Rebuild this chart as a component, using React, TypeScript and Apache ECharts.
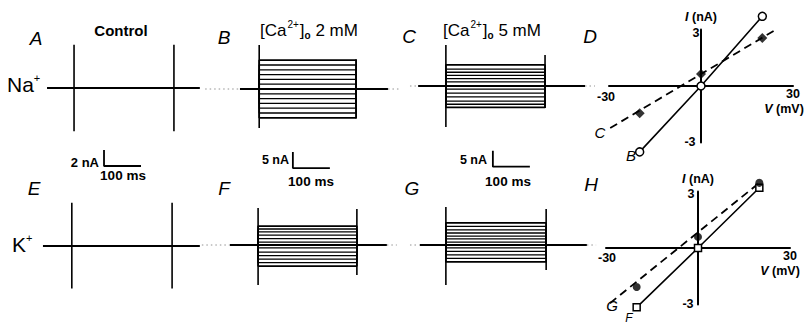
import React, { useEffect, useRef } from "react";
import * as echarts from "echarts";

// ---------- DATA ----------
// Current levels (nA) of the step traces
const levelsB = [9, 7.5, 6, 4.5, 3, 1.5, 0, -1.5, -3, -4.5, -6, -7.5, -9];
const levelsC = [6.6, 5.3, 4.3, 3.3, 2.3, 1.3, 0, -1, -2.2, -3.4, -4.7, -5.7, -6.7];
const levelsF = [5.9, 5, 4.1, 3.1, 2, 0.9, 0, -0.9, -2.2, -3.3, -4.4, -5.5, -6.6];
const levelsG = [6.9, 5.8, 4.7, 3.75, 2.8, 1.9, 0.9, 0, -0.9, -2, -3.1, -4.2, -5.3];

// Step onset / offset (ms)
const stepA = [92, 362];
const stepB = [160, 422];
const stepC = [124, 392];
const stepE = [86, 357];
const stepF = [157, 424];
const stepG = [124, 395];

// Holding baseline extent (ms) solid, and dotted extensions
const baseA = [19, 432];
const baseB = [108, 508];
const baseC = [49, 500];
const baseE = [8, 432];
const baseF = [81, 505];
const baseG = [54, 505];
const dotB = [14, 540];
const dotC = [27, 527];
const dotF = [5, 532];
const dotG = [27, 530];

// Capacitive transients (nA): onset high, onset low, offset high, offset low
const spikeA = [5.4, -5.4, 5.4, -5.4];
const spikeB = [13.75, -12.2, 9.3, -9.2];
const spikeC = [12.8, -12.8, 9.7, -6.9];
const spikeE = [5.4, -5.3, 5.4, -5.3];
const spikeF = [11.6, -12.5, 11.25, -9.4];
const spikeG = [11.9, -12.5, 11.25, -7.8];

// Scale bars: [start ms, top nA, amplitude nA, duration ms]
const scaleA = [173, -7.75, 2, 100];
const scaleB = [251, -19.7, 5, 100];
const scaleC = [251, -20.2, 5, 100];

// I-V relations
const ivV = [-20, 0, 20];
const ivB = [-3.5, 0, 3.7];
const ivC = [-1.45, 0.64, 2.55];
const ivF = [-3.15, 0, 3.2];
const ivG = [-2.07, 0.59, 3.46];
const fitCV = [-29.6, 24.8];
const fitCI = [-2.23, 3.03];
const fitGV = [-28.7, 20];
const fitGI = [-2.93, 3.46];

// I-V tick labels
const ivXTicks = ["-30", "30"];
const ivYTicks = ["3", "-3"];

// ---------- LAYOUT ----------
const FONT = "'Liberation Sans', Arial, Helvetica, sans-serif";

const traceGrids = [
  { left: 40, top: 40, width: 162.8, height: 136, xMax: 440, yMin: -11, yMax: 6 }, // A
  { left: 200, top: 41, width: 199.8, height: 134.4, xMax: 540, yMin: -27, yMax: 15 }, // B
  { left: 400, top: 41.2, width: 199.8, height: 134.4, xMax: 540, yMin: -28, yMax: 14 }, // C
  { left: 40, top: 198, width: 162.8, height: 96, xMax: 440, yMin: -6, yMax: 6 }, // E
  { left: 200, top: 197, width: 199.8, height: 96, xMax: 540, yMin: -15, yMax: 15 }, // F
  { left: 400, top: 197, width: 199.8, height: 96, xMax: 540, yMin: -15, yMax: 15 }, // G
];
const ivGrids = [
  { left: 609, top: 29.5, width: 184, height: 113 }, // D
  { left: 606, top: 191.5, width: 184, height: 113 }, // H
];

const seg = (g: number, data: any[], width = 1.3, type: any = "solid", color = "#000", z = 3) => ({
  type: "line",
  xAxisIndex: g,
  yAxisIndex: g,
  data,
  symbol: "none",
  showSymbol: false,
  silent: true,
  clip: false,
  z,
  lineStyle: { color, width, type, cap: "butt" },
});

function tracePanel(g: number, levels: number[], step: number[], base: number[], spike: number[], dot?: number[], thick = 1.3) {
  const s: any[] = [];
  if (dot) {
    s.push(seg(g, [[dot[0], 0], [base[0], 0]], 0.8, [1.5, 3], "#777", 2));
    s.push(seg(g, [[base[1], 0], [dot[1], 0]], 0.8, [1.5, 3], "#777", 2));
  }
  s.push(seg(g, [[base[0], 0], [base[1], 0]], 2));
  levels.forEach((lv, i) => {
    const w = i === 0 || i === levels.length - 1 ? 1.7 : thick;
    s.push(seg(g, [[step[0], 0], [step[0], lv], [step[1], lv], [step[1], 0]], w));
  });
  s.push(seg(g, [[step[0], spike[0]], [step[0], spike[1]]], 1.6));
  s.push(seg(g, [[step[1], spike[2]], [step[1], spike[3]]], 1.6));
  return s;
}

function scaleBar(g: number, sc: number[]) {
  return seg(g, [[sc[0], sc[1]], [sc[0], sc[1] - sc[2]], [sc[0] + sc[3], sc[1] - sc[2]]], 1.8);
}

function txt(x: number, y: number, text: string, size: number, o: any = {}) {
  const align = o.align || "center";
  return {
    type: "text",
    x,
    y,
    silent: true,
    z: 10,
    style: {
      text,
      fill: "#000",
      fontSize: size,
      fontFamily: FONT,
      fontStyle: o.italic ? "italic" : "normal",
      fontWeight: o.bold ? "bold" : "normal",
      textAlign: align,
      align,
      textVerticalAlign: "middle",
      verticalAlign: "middle",
      rich: o.rich,
    },
  };
}

const caRich = (size: number) => ({
  sup: { fontSize: 10, fontFamily: FONT, verticalAlign: "top", lineHeight: 11, padding: [0, 1, 0, 1] },
  sub: { fontSize: 10, fontFamily: FONT, fontWeight: "bold", verticalAlign: "bottom", lineHeight: 11 },
  b: { fontSize: size, fontFamily: FONT, lineHeight: 21 },
});
const ionRich = {
  b: { fontSize: 21, fontFamily: FONT, lineHeight: 24 },
  sup: { fontSize: 11, fontFamily: FONT, verticalAlign: "top", lineHeight: 13 },
};
const vRich = { i: { fontStyle: "italic", fontWeight: "bold", fontSize: 12.5, fontFamily: FONT } };

function buildOption() {
  const grid: any[] = [];
  const xAxis: any[] = [];
  const yAxis: any[] = [];
  traceGrids.forEach((t) => {
    grid.push({ left: t.left, top: t.top, width: t.width, height: t.height });
    xAxis.push({ gridIndex: grid.length - 1, type: "value", min: 0, max: t.xMax, show: false });
    yAxis.push({ gridIndex: grid.length - 1, type: "value", min: t.yMin, max: t.yMax, show: false });
  });
  ivGrids.forEach((t) => {
    grid.push({ left: t.left, top: t.top, width: t.width, height: t.height });
    const gi = grid.length - 1;
    xAxis.push({
      gridIndex: gi,
      type: "value",
      min: -30,
      max: 30,
      interval: 30,
      axisLine: { onZero: true, lineStyle: { color: "#000", width: 2 } },
      axisTick: { show: false },
      splitLine: { show: false },
      axisLabel: { show: false },
    });
    yAxis.push({
      gridIndex: gi,
      type: "value",
      min: -3,
      max: 3,
      interval: 3,
      name: "{i|I} (nA)",
      nameLocation: "end",
      nameGap: 6,
      nameTextStyle: {
        color: "#000",
        fontSize: 12.5,
        fontWeight: "bold",
        fontFamily: FONT,
        rich: vRich,
      },
      axisLine: { onZero: true, lineStyle: { color: "#000", width: 2 } },
      axisTick: { show: false },
      splitLine: { show: false },
      axisLabel: { show: false },
    });
  });

  const series: any[] = [];
  series.push(...tracePanel(0, [0], stepA, baseA, spikeA, undefined, 2));
  series.push(...tracePanel(1, levelsB, stepB, baseB, spikeB, dotB));
  series.push(...tracePanel(2, levelsC, stepC, baseC, spikeC, dotC));
  series.push(...tracePanel(3, [0], stepE, baseE, spikeE, undefined, 3));
  series.push(...tracePanel(4, levelsF, stepF, baseF, spikeF, dotF));
  series.push(...tracePanel(5, levelsG, stepG, baseG, spikeG, dotG));
  series.push(scaleBar(0, scaleA), scaleBar(1, scaleB), scaleBar(2, scaleC));

  const pts = (vals: number[]) => ivV.map((v, i) => [v, vals[i]]);
  // D
  series.push({
    type: "line", xAxisIndex: 6, yAxisIndex: 6, data: pts(ivB), silent: true, clip: false, z: 5,
    symbol: "circle", symbolSize: 8, showSymbol: true,
    itemStyle: { color: "#fff", borderColor: "#000", borderWidth: 1.5 },
    lineStyle: { color: "#000", width: 1.6 },
  });
  series.push(seg(6, [[fitCV[0], fitCI[0]], [fitCV[1], fitCI[1]]], 1.8, [8, 5], "#000", 4));
  series.push({
    type: "scatter", xAxisIndex: 6, yAxisIndex: 6, data: pts(ivC), silent: true, clip: false, z: 6,
    symbol: "diamond", symbolSize: 10, itemStyle: { color: "#000" },
  });
  // H
  series.push({
    type: "line", xAxisIndex: 7, yAxisIndex: 7, data: pts(ivF), silent: true, clip: false, z: 5,
    symbol: "rect", symbolSize: 7, showSymbol: true,
    itemStyle: { color: "#fff", borderColor: "#000", borderWidth: 1.5 },
    lineStyle: { color: "#000", width: 1.6 },
  });
  series.push(seg(7, [[fitGV[0], fitGI[0]], [fitGV[1], fitGI[1]]], 1.8, [8, 5], "#000", 4));
  series.push({
    type: "scatter", xAxisIndex: 7, yAxisIndex: 7, data: pts(ivG), silent: true, clip: false, z: 6,
    symbol: "circle", symbolSize: 8, itemStyle: { color: "#000" },
  });

  const graphic: any[] = [
    txt(36, 38, "A", 19, { italic: true }),
    txt(224, 37, "B", 19, { italic: true }),
    txt(409, 36, "C", 19, { italic: true }),
    txt(590, 36, "D", 19, { italic: true }),
    txt(34, 188, "E", 19, { italic: true }),
    txt(224, 188, "F", 19, { italic: true }),
    txt(412, 188, "G", 19, { italic: true }),
    txt(591, 184, "H", 19, { italic: true }),
    txt(121, 30, "Control", 15, { bold: true }),
    txt(260, 30, "{b|[Ca}{sup|2+}{b|]}{sub|o}{b| 2 mM}", 17, { align: "left", rich: caRich(17) }),
    txt(443, 30, "{b|[Ca}{sup|2+}{b|]}{sub|o}{b| 5 mM}", 17, { align: "left", rich: caRich(17) }),
    txt(7, 84, "{b|Na}{sup|+}", 21, { align: "left", rich: ionRich }),
    txt(12, 244, "{b|K}{sup|+}", 21, { align: "left", rich: ionRich }),
    txt(99, 162, "2 nA", 13, { bold: true, align: "right" }),
    txt(123, 175, "100 ms", 13.5, { bold: true }),
    txt(289, 160, "5 nA", 12.5, { bold: true, align: "right" }),
    txt(311, 181, "100 ms", 13.5, { bold: true }),
    txt(487, 160, "5 nA", 12.5, { bold: true, align: "right" }),
    txt(508, 181, "100 ms", 13.5, { bold: true }),
    // D axis ticks
    txt(606, 97, ivXTicks[0], 12.5, { bold: true }),
    txt(793, 94, ivXTicks[1], 12.5, { bold: true }),
    txt(696, 33, ivYTicks[0], 12.5, { bold: true }),
    txt(690, 142, ivYTicks[1], 12.5, { bold: true }),
    txt(784, 109, "{i|V} (mV)", 12.5, { bold: true, rich: vRich }),
    // H axis ticks
    txt(607, 258, ivXTicks[0], 12.5, { bold: true }),
    txt(790, 256, ivXTicks[1], 12.5, { bold: true }),
    txt(691, 194, ivYTicks[0], 12.5, { bold: true }),
    txt(688, 304, ivYTicks[1], 12.5, { bold: true }),
    txt(780, 271, "{i|V} (mV)", 12.5, { bold: true, rich: vRich }),
    txt(600, 132, "C", 15, { italic: true }),
    txt(631, 155, "B", 15, { italic: true }),
    txt(612, 305, "G", 15, { italic: true }),
    txt(629, 318, "F", 12, { italic: true }),
  ];

  return {
    animation: false,
    backgroundColor: "#fff",
    grid,
    xAxis,
    yAxis,
    series,
    graphic,
  };
}

export default function App() {
  const ref = useRef<HTMLDivElement>(null);
  useEffect(() => {
    const chart = echarts.init(ref.current!, null, { renderer: "svg" });
    chart.setOption(buildOption() as any);
    return () => chart.dispose();
  }, []);
  return (
    <div
      ref={ref}
      style={{ position: "fixed", left: 0, top: 0, width: 806, height: 325, background: "#fff" }}
    />
  );
}
